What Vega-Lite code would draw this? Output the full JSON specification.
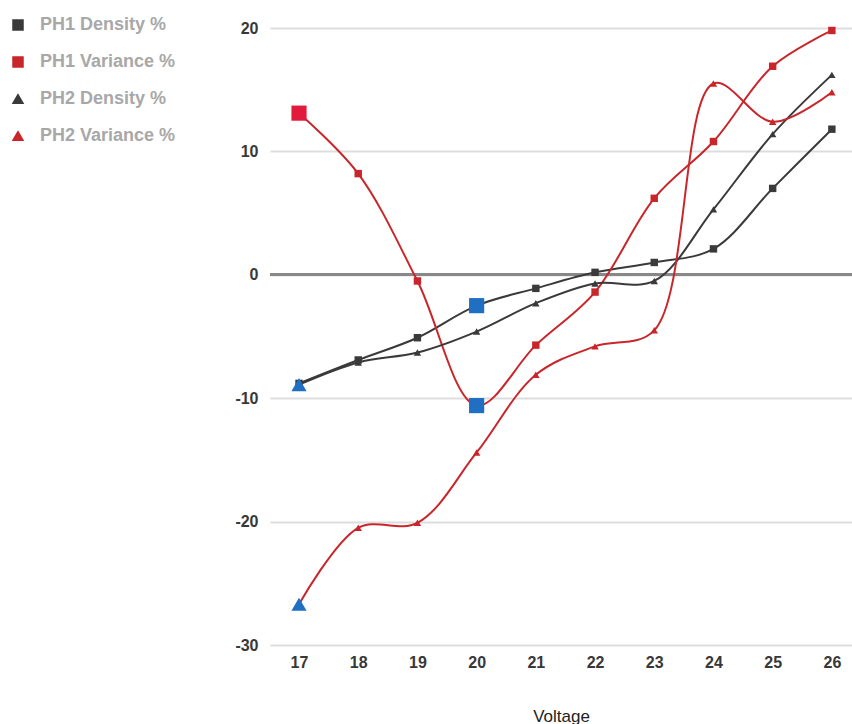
{
  "$schema": "https://vega.github.io/schema/vega-lite/v6.json",
  "autosize": {"type": "none"},
  "width": 582,
  "height": 617,
  "padding": {"left": 270, "top": 28, "right": 0, "bottom": 79},
  "background": "white",
  "config": {
    "view": {"stroke": null},
    "font": "Liberation Sans"
  },
  "data": {
    "values": [
      {"voltage": 17, "series": "PH1 Density %", "value": -8.8},
      {"voltage": 18, "series": "PH1 Density %", "value": -6.9},
      {"voltage": 19, "series": "PH1 Density %", "value": -5.1},
      {"voltage": 20, "series": "PH1 Density %", "value": -2.5},
      {"voltage": 21, "series": "PH1 Density %", "value": -1.1},
      {"voltage": 22, "series": "PH1 Density %", "value": 0.2},
      {"voltage": 23, "series": "PH1 Density %", "value": 1.0},
      {"voltage": 24, "series": "PH1 Density %", "value": 2.1},
      {"voltage": 25, "series": "PH1 Density %", "value": 7.0},
      {"voltage": 26, "series": "PH1 Density %", "value": 11.8},
      {"voltage": 17, "series": "PH1 Variance %", "value": 13.1},
      {"voltage": 18, "series": "PH1 Variance %", "value": 8.2},
      {"voltage": 19, "series": "PH1 Variance %", "value": -0.5},
      {"voltage": 20, "series": "PH1 Variance %", "value": -10.6},
      {"voltage": 21, "series": "PH1 Variance %", "value": -5.7},
      {"voltage": 22, "series": "PH1 Variance %", "value": -1.4},
      {"voltage": 23, "series": "PH1 Variance %", "value": 6.2},
      {"voltage": 24, "series": "PH1 Variance %", "value": 10.8},
      {"voltage": 25, "series": "PH1 Variance %", "value": 16.9},
      {"voltage": 26, "series": "PH1 Variance %", "value": 19.8},
      {"voltage": 17, "series": "PH2 Density %", "value": -8.9},
      {"voltage": 18, "series": "PH2 Density %", "value": -7.1},
      {"voltage": 19, "series": "PH2 Density %", "value": -6.3},
      {"voltage": 20, "series": "PH2 Density %", "value": -4.6},
      {"voltage": 21, "series": "PH2 Density %", "value": -2.3},
      {"voltage": 22, "series": "PH2 Density %", "value": -0.7},
      {"voltage": 23, "series": "PH2 Density %", "value": -0.5},
      {"voltage": 24, "series": "PH2 Density %", "value": 5.3},
      {"voltage": 25, "series": "PH2 Density %", "value": 11.4},
      {"voltage": 26, "series": "PH2 Density %", "value": 16.2},
      {"voltage": 17, "series": "PH2 Variance %", "value": -26.7},
      {"voltage": 18, "series": "PH2 Variance %", "value": -20.5},
      {"voltage": 19, "series": "PH2 Variance %", "value": -20.1},
      {"voltage": 20, "series": "PH2 Variance %", "value": -14.4},
      {"voltage": 21, "series": "PH2 Variance %", "value": -8.1},
      {"voltage": 22, "series": "PH2 Variance %", "value": -5.8},
      {"voltage": 23, "series": "PH2 Variance %", "value": -4.5},
      {"voltage": 24, "series": "PH2 Variance %", "value": 15.5},
      {"voltage": 25, "series": "PH2 Variance %", "value": 12.4},
      {"voltage": 26, "series": "PH2 Variance %", "value": 14.8}
    ]
  },
  "encoding": {
    "x": {
      "field": "voltage",
      "type": "quantitative",
      "scale": {"domain": [16.51, 26.34], "nice": false, "zero": false},
      "axis": {
        "values": [17, 18, 19, 20, 21, 22, 23, 24, 25, 26],
        "format": "d",
        "grid": false,
        "domain": false,
        "ticks": false,
        "labelPadding": 9,
        "labelFontSize": 16,
        "labelFontWeight": "bold",
        "labelColor": "#383838",
        "title": "Voltage",
        "titleFontSize": 17,
        "titleFontWeight": "normal",
        "titleColor": "#222222",
        "titlePadding": 38
      }
    },
    "y": {
      "field": "value",
      "type": "quantitative",
      "scale": {"domain": [-30, 20], "nice": false},
      "axis": {
        "values": [-30, -20, -10, 0, 10, 20],
        "labelExpr": "replace(datum.label, '\u2212', '-')",
        "grid": true,
        "gridColor": "#dddddd",
        "gridWidth": 2,
        "domain": false,
        "ticks": false,
        "labelPadding": 12,
        "labelFontSize": 16,
        "labelFontWeight": "bold",
        "labelColor": "#383838",
        "title": null
      }
    }
  },
  "layer": [
    {
      "mark": {"type": "rule", "color": "#888888", "strokeWidth": 2},
      "encoding": {"y": {"datum": 0}, "x": null}
    },
    {
      "mark": {"type": "line", "interpolate": "catmull-rom", "strokeWidth": 2},
      "encoding": {
        "color": {
          "field": "series",
          "type": "nominal",
          "scale": {
            "domain": ["PH1 Density %", "PH1 Variance %", "PH2 Density %", "PH2 Variance %"],
            "range": ["#3a3a3a", "#c8262a", "#3a3a3a", "#c8262a"]
          }
        }
      }
    },
    {
      "mark": {"type": "point", "filled": true, "opacity": 1, "size": 55},
      "encoding": {
        "color": {
          "field": "series",
          "type": "nominal",
          "legend": {
            "title": null,
            "orient": "none",
            "legendX": -261,
            "legendY": -12,
            "symbolSize": 100,
            "symbolOpacity": 1,
            "labelFontSize": 18,
            "labelFontWeight": "bold",
            "labelColor": "#a8a8a8",
            "labelOffset": 13,
            "rowPadding": 19
          }
        },
        "shape": {
          "field": "series",
          "type": "nominal",
          "scale": {
            "domain": ["PH1 Density %", "PH1 Variance %", "PH2 Density %", "PH2 Variance %"],
            "range": ["square", "square", "triangle-up", "triangle-up"]
          },
          "legend": {
            "title": null,
            "orient": "none",
            "legendX": -261,
            "legendY": -12,
            "symbolSize": 100,
            "symbolOpacity": 1,
            "labelFontSize": 18,
            "labelFontWeight": "bold",
            "labelColor": "#a8a8a8",
            "labelOffset": 13,
            "rowPadding": 19
          }
        }
      }
    },
    {
      "transform": [
        {"filter": "(datum.voltage == 20 && (datum.series == 'PH1 Density %' || datum.series == 'PH1 Variance %')) || (datum.voltage == 17 && (datum.series == 'PH2 Density %' || datum.series == 'PH2 Variance %'))"}
      ],
      "mark": {"type": "point", "filled": true, "opacity": 1, "size": 230, "color": "#1f6fc2"},
      "encoding": {
        "shape": {"field": "series", "type": "nominal"}
      }
    },
    {
      "transform": [
        {"filter": "datum.voltage == 17 && datum.series == 'PH1 Variance %'"}
      ],
      "mark": {"type": "point", "filled": true, "opacity": 1, "size": 230, "color": "#e21a3c"},
      "encoding": {
        "shape": {"field": "series", "type": "nominal"}
      }
    }
  ]
}
